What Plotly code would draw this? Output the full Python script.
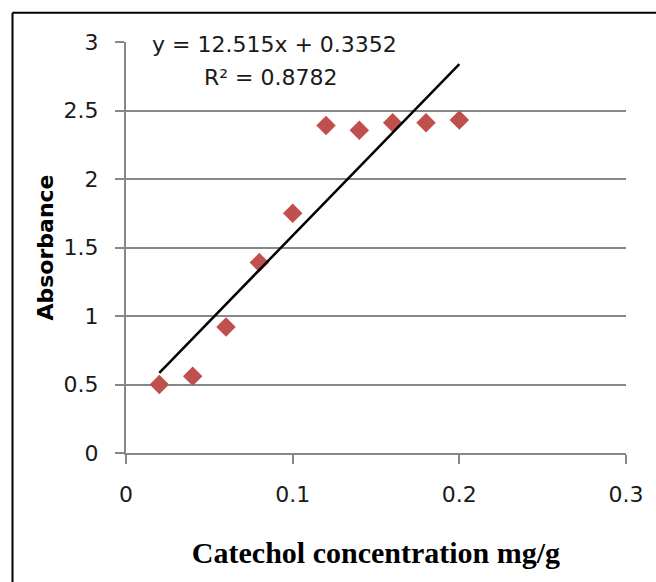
import plotly.graph_objects as go

concentration = [0.02, 0.04, 0.06, 0.08, 0.10, 0.12, 0.14, 0.16, 0.18, 0.20]
absorbance = [0.50, 0.56, 0.92, 1.39, 1.75, 2.39, 2.355, 2.41, 2.41, 2.43]
slope = 12.515
intercept = 0.3352
r_squared = 0.8782
x_ticks = [0, 0.1, 0.2, 0.3]
y_ticks = [0, 0.5, 1, 1.5, 2, 2.5, 3]

trend_x = [min(concentration), max(concentration)]
trend_y = [slope * v + intercept for v in trend_x]

fig = go.Figure()
fig.add_trace(go.Scatter(
    x=concentration, y=absorbance, mode="markers",
    marker=dict(symbol="diamond", size=15, color="#C0504D", line=dict(width=0)),
    showlegend=False))
fig.add_trace(go.Scatter(
    x=trend_x, y=trend_y, mode="lines",
    line=dict(color="black", width=2.5), showlegend=False))

gray = "#878787"
fig.update_layout(
    width=656, height=582,
    margin=dict(l=126, r=28, t=42, b=129),
    paper_bgcolor="white", plot_bgcolor="white",
    font=dict(family="DejaVu Sans", size=22, color="#1a1a1a"),
    xaxis=dict(range=[0, 0.3], tickvals=x_ticks, ticktext=["0", "0.1", "0.2", "0.3"],
               showgrid=False, zeroline=False, showline=True, linecolor=gray, linewidth=2,
               ticks="outside", ticklen=9, tickwidth=2, tickcolor=gray,
               ticklabelstandoff=12,
               title=dict(text="<b>Catechol concentration mg/g</b>",
                          font=dict(family="Liberation Serif", size=30, color="black"),
                          standoff=36)),
    yaxis=dict(range=[0, 3], tickvals=y_ticks, ticktext=["0", "0.5", "1", "1.5", "2", "2.5", "3"],
               showgrid=True, gridcolor=gray, gridwidth=2, zeroline=False,
               showline=True, linecolor=gray, linewidth=2,
               ticks="outside", ticklen=9, tickwidth=2, tickcolor=gray,
               ticklabelstandoff=12,
               title=dict(text="<b>Absorbance</b>",
                          font=dict(family="DejaVu Sans", size=22, color="black"),
                          standoff=4)),
    annotations=[
        dict(x=0.089, y=2.98, xref="x", yref="y", showarrow=False,
             text=f"y = {slope}x + {intercept}", font=dict(size=22, color="#1a1a1a")),
        dict(x=0.087, y=2.74, xref="x", yref="y", showarrow=False,
             text=f"R² = {r_squared}", font=dict(size=22, color="#1a1a1a")),
    ],
    shapes=[
        dict(type="line", xref="paper", yref="paper",
             x0=-0.227, x1=1.1, y0=1.0713, y1=1.0713,
             line=dict(color="black", width=2), layer="below"),
        dict(type="line", xref="paper", yref="paper",
             x0=-0.227, x1=-0.227, y0=-0.35, y1=1.0713,
             line=dict(color="black", width=2), layer="below"),
    ],
)
fig.write_html("out.html", config={"displayModeBar": False},
               post_script="document.body.style.margin='0';document.body.style.overflow='hidden';")
